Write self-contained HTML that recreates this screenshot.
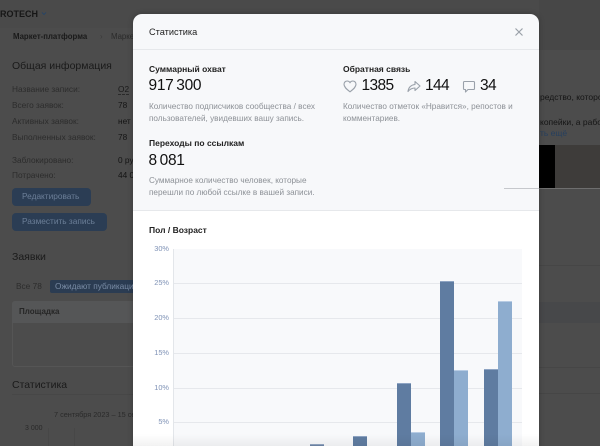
<!DOCTYPE html>
<html><head><meta charset="utf-8">
<style>
*{margin:0;padding:0;box-sizing:border-box}
html,body{width:600px;height:446px;overflow:hidden;background:#4c4c4c}
body{font-family:"Liberation Sans","Noto Sans CJK SC",sans-serif;position:relative}
.a{position:absolute;white-space:nowrap}
.t{position:absolute;white-space:nowrap;line-height:1.2}
</style></head><body>
<!-- background page (dimmed) -->
<div class="a" style="left:0;top:0;width:600px;height:28px;background:#4a4a4a"></div>
<div class="t" style="left:0;top:8.5px;font-size:9px;font-weight:bold;color:#161616">ROTECH</div>
<svg class="a" style="left:41px;top:11px" width="6" height="5" viewBox="0 0 6 5"><path d="M1 1.5 L3 3.5 L5 1.5" fill="none" stroke="#2a4565" stroke-width="1"/></svg>
<div class="t" style="left:13px;top:32px;font-size:7.8px;font-weight:bold;color:#1a1a1a">Маркет-платформа</div>
<div class="t" style="left:100px;top:32px;font-size:7.8px;color:#3a3a3a">›</div>
<div class="t" style="left:111px;top:32px;font-size:7.8px;color:#2a2a2a">Маркет</div>
<div class="t" style="left:12px;top:60px;font-size:10.5px;color:#1a1a1a">Общая информация</div>
<div class="t" style="left:12px;top:85px;font-size:8.3px;color:#2c2c2c">Название записи:</div>
<div class="t" style="left:12px;top:101px;font-size:8.3px;color:#2c2c2c">Всего заявок:</div>
<div class="t" style="left:12px;top:117px;font-size:8.3px;color:#2c2c2c">Активных заявок:</div>
<div class="t" style="left:12px;top:133px;font-size:8.3px;color:#2c2c2c">Выполненных заявок:</div>
<div class="t" style="left:12px;top:156px;font-size:8.3px;color:#2c2c2c">Заблокировано:</div>
<div class="t" style="left:12px;top:171px;font-size:8.3px;color:#2c2c2c">Потрачено:</div>
<div class="t" style="left:118px;top:85px;font-size:8.3px;color:#1a1a1a;border-bottom:1px dashed #2a2a2a;line-height:9px">О2</div>
<div class="t" style="left:118px;top:101px;font-size:8.3px;color:#141414">78</div>
<div class="t" style="left:118px;top:117px;font-size:8.3px;color:#141414">нет</div>
<div class="t" style="left:118px;top:133px;font-size:8.3px;color:#141414">78</div>
<div class="t" style="left:118px;top:156px;font-size:8.3px;color:#141414">0 руб</div>
<div class="t" style="left:118px;top:171px;font-size:8.3px;color:#141414">44 000</div>
<div class="a" style="left:12px;top:188px;width:79px;height:18px;background:#2b3d54;border-radius:4px"></div>
<div class="t" style="left:22px;top:192px;font-size:8.3px;color:#6c7f98">Редактировать</div>
<div class="a" style="left:12px;top:213px;width:95px;height:18px;background:#2b3d54;border-radius:4px"></div>
<div class="t" style="left:22px;top:217px;font-size:8.3px;color:#6c7f98">Разместить запись</div>
<div class="t" style="left:12px;top:251px;font-size:10.5px;color:#1a1a1a">Заявки</div>
<div class="t" style="left:16px;top:282px;font-size:8.3px;color:#2c2c2c">Все 78</div>
<div class="a" style="left:50px;top:280px;width:90px;height:13px;background:#2b3c52;border-radius:2px"></div>
<div class="t" style="left:55px;top:282px;font-size:8.3px;color:#7a8ca5">Ожидают публикации</div>
<div class="a" style="left:12px;top:301px;width:130px;height:66px;border:1px solid #555;border-radius:3px"></div>
<div class="a" style="left:12px;top:301px;width:130px;height:22px;background:#555657;border-radius:3px 3px 0 0"></div>
<div class="t" style="left:19px;top:307px;font-size:8px;font-weight:bold;color:#262626">Площадка</div>
<div class="t" style="left:12px;top:379px;font-size:10.5px;color:#1a1a1a">Статистика</div>
<div class="a" style="left:12px;top:394px;width:130px;height:1px;background:#474747"></div>
<div class="t" style="left:54px;top:411px;font-size:7.3px;color:#2a2a2a">7 сентября 2023 – 15 сентября</div>
<div class="t" style="left:25px;top:425px;font-size:7px;color:#2a2a2a">3 000</div>
<div class="a" style="left:48px;top:428px;width:1px;height:18px;background:#474747"></div>
<div class="a" style="left:74px;top:428px;width:1px;height:18px;background:#474747"></div>

<!-- right side page -->
<div class="a" style="left:539px;top:0;width:61px;height:50px;background:#474747"></div>
<div class="t" style="left:540px;top:92px;font-size:8.5px;color:#151515">редство, которое</div>
<div class="t" style="left:540px;top:117px;font-size:8.5px;color:#151515">копейки, а работа</div>
<div class="t" style="left:540px;top:128px;font-size:8.5px;color:#263f5e">ть ещё</div>
<div class="a" style="left:539px;top:145px;width:16px;height:43px;background:#000"></div>
<div class="a" style="left:555px;top:145px;width:45px;height:43px;background:#3e3c3a"></div>
<div class="a" style="left:539px;top:188px;width:61px;height:1px;background:#6e6e6e"></div>
<div class="a" style="left:539px;top:265px;width:61px;height:1px;background:#464646"></div>
<div class="a" style="left:539px;top:302px;width:61px;height:21px;background:#47484a"></div>
<div class="a" style="left:539px;top:367px;width:61px;height:1px;background:#464646"></div>
<div class="a" style="left:539px;top:393px;width:61px;height:1px;background:#464646"></div>

<!-- modal -->
<div class="a" style="left:133px;top:14px;width:406px;height:440px;background:#f7f8fa;border-radius:9px 9px 0 0;overflow:hidden;box-shadow:0 0 6px rgba(0,0,0,0.25)">
  <div class="a" style="left:0;top:35px;width:406px;height:1px;background:#e6e8eb"></div>
  <div class="a" style="left:0;top:196px;width:406px;height:1px;background:#e6e8eb"></div>
  <div class="a" style="left:0;top:197px;width:406px;height:243px;background:#ffffff"></div>
</div>
<div class="t" style="left:149px;top:26.5px;font-size:9.2px;color:#222">Статистика</div>
<svg class="a" style="left:514px;top:27px" width="10" height="10" viewBox="0 0 10 10"><path d="M1.5 1.5 L8.5 8.5 M8.5 1.5 L1.5 8.5" stroke="#9aa0a8" stroke-width="1.2"/></svg>

<div class="t" style="left:149px;top:63.5px;font-size:8.5px;font-weight:bold;color:#222">Суммарный охват</div>
<div class="t" style="left:148.5px;top:77px;font-size:15.5px;color:#111;letter-spacing:-0.3px">917&thinsp;300</div>
<div class="t" style="left:149px;top:101px;font-size:8.2px;color:#8c9096;line-height:11.7px">Количество подписчиков сообщества / всех<br>пользователей, увидевших вашу запись.</div>

<div class="t" style="left:149px;top:137.5px;font-size:8.5px;font-weight:bold;color:#222">Переходы по ссылкам</div>
<div class="t" style="left:148.5px;top:152px;font-size:15.5px;color:#111;letter-spacing:-0.3px">8&thinsp;081</div>
<div class="t" style="left:149px;top:175px;font-size:8.2px;color:#8c9096;line-height:11.7px">Суммарное количество человек, которые<br>перешли по любой ссылке в вашей записи.</div>

<div class="t" style="left:343px;top:63.5px;font-size:8.5px;font-weight:bold;color:#222">Обратная связь</div>
<svg class="a" style="left:343px;top:80px" width="14" height="13" viewBox="0 0 14 13"><path d="M7 11.8 C3 8.8 1 6.8 1 4.3 C1 2.4 2.4 1 4.2 1 C5.4 1 6.4 1.6 7 2.6 C7.6 1.6 8.6 1 9.8 1 C11.6 1 13 2.4 13 4.3 C13 6.8 11 8.8 7 11.8 Z" fill="none" stroke="#9aa1aa" stroke-width="1.1"/></svg>
<div class="t" style="left:361.5px;top:77px;font-size:15.5px;color:#111;letter-spacing:-0.6px">1385</div>
<svg class="a" style="left:407px;top:80px" width="14" height="13" viewBox="0 0 14 13"><path d="M8 1.5 L13 6 L8 10.5 L8 8 C5 8 3 9 1 11.5 C1.5 7.5 4 5 8 4.5 Z" fill="none" stroke="#9aa1aa" stroke-width="1.1" stroke-linejoin="round"/></svg>
<div class="t" style="left:425px;top:77px;font-size:15.5px;color:#111;letter-spacing:-0.6px">144</div>
<svg class="a" style="left:462px;top:80px" width="14" height="14" viewBox="0 0 14 14"><path d="M2.5 1.5 H11.5 Q12.5 1.5 12.5 2.5 V8.5 Q12.5 9.5 11.5 9.5 H6 L3.5 12 V9.5 H2.5 Q1.5 9.5 1.5 8.5 V2.5 Q1.5 1.5 2.5 1.5 Z" fill="none" stroke="#9aa1aa" stroke-width="1.1" stroke-linejoin="round"/></svg>
<div class="t" style="left:480px;top:77px;font-size:15.5px;color:#111;letter-spacing:-0.6px">34</div>
<div class="t" style="left:343px;top:101px;font-size:8.2px;color:#8c9096;line-height:11.7px">Количество отметок «Нравится», репостов и<br>комментариев.</div>

<!-- line overlapping modal -->
<div class="a" style="left:504px;top:188px;width:35px;height:1px;background:#c6c8cc"></div>

<!-- chart -->
<div class="t" style="left:149px;top:225px;font-size:8.5px;font-weight:bold;color:#222">Пол / Возраст</div>
<div class="a" style="left:173px;top:249px;width:349px;height:197px;background:#f8f9fb"></div>
<div class="a" style="left:173px;top:249px;width:1px;height:197px;background:#e3e6ea"></div>
<div class="a" style="left:174px;top:283px;width:348px;height:1px;background:#e6e8ec"></div>
<div class="a" style="left:174px;top:318px;width:348px;height:1px;background:#e6e8ec"></div>
<div class="a" style="left:174px;top:353px;width:348px;height:1px;background:#e6e8ec"></div>
<div class="a" style="left:174px;top:388px;width:348px;height:1px;background:#e6e8ec"></div>
<div class="a" style="left:174px;top:422px;width:348px;height:1px;background:#e6e8ec"></div>
<div class="t" style="left:139px;width:30px;text-align:right;top:244.5px;font-size:7.4px;color:#7f92b6">30%</div>
<div class="t" style="left:139px;width:30px;text-align:right;top:278.5px;font-size:7.4px;color:#7f92b6">25%</div>
<div class="t" style="left:139px;width:30px;text-align:right;top:313.5px;font-size:7.4px;color:#7f92b6">20%</div>
<div class="t" style="left:139px;width:30px;text-align:right;top:348.5px;font-size:7.4px;color:#7f92b6">15%</div>
<div class="t" style="left:139px;width:30px;text-align:right;top:383.5px;font-size:7.4px;color:#7f92b6">10%</div>
<div class="t" style="left:139px;width:30px;text-align:right;top:417.5px;font-size:7.4px;color:#7f92b6">5%</div>

<div class="a" style="left:310px;top:444px;width:14px;height:2px;background:#6f87a8;border-top:1px solid #93a6c2"></div>
<div class="a" style="left:353px;top:435.5px;width:14px;height:11px;background:#5f7ca1;border-top:1px solid #8ea4c3"></div>
<div class="a" style="left:397px;top:383px;width:13.5px;height:63px;background:#5f7ca1;border-top:1px solid #8ea4c3"></div>
<div class="a" style="left:410.5px;top:431.5px;width:14px;height:15px;background:#8eadcf;border-top:1px solid #b8cce4"></div>
<div class="a" style="left:440px;top:281px;width:14px;height:165px;background:#5f7ca1;border-top:1px solid #8ea4c3"></div>
<div class="a" style="left:454px;top:370px;width:14px;height:76px;background:#8eadcf;border-top:1px solid #b8cce4"></div>
<div class="a" style="left:483.5px;top:369px;width:14px;height:77px;background:#5f7ca1;border-top:1px solid #8ea4c3"></div>
<div class="a" style="left:497.5px;top:301px;width:14px;height:145px;background:#8eadcf;border-top:1px solid #b8cce4"></div>

<div class="a" style="left:133px;top:434px;width:406px;height:12px;background:linear-gradient(to bottom,rgba(0,0,0,0),rgba(0,0,0,0.05))"></div>
</body></html>
